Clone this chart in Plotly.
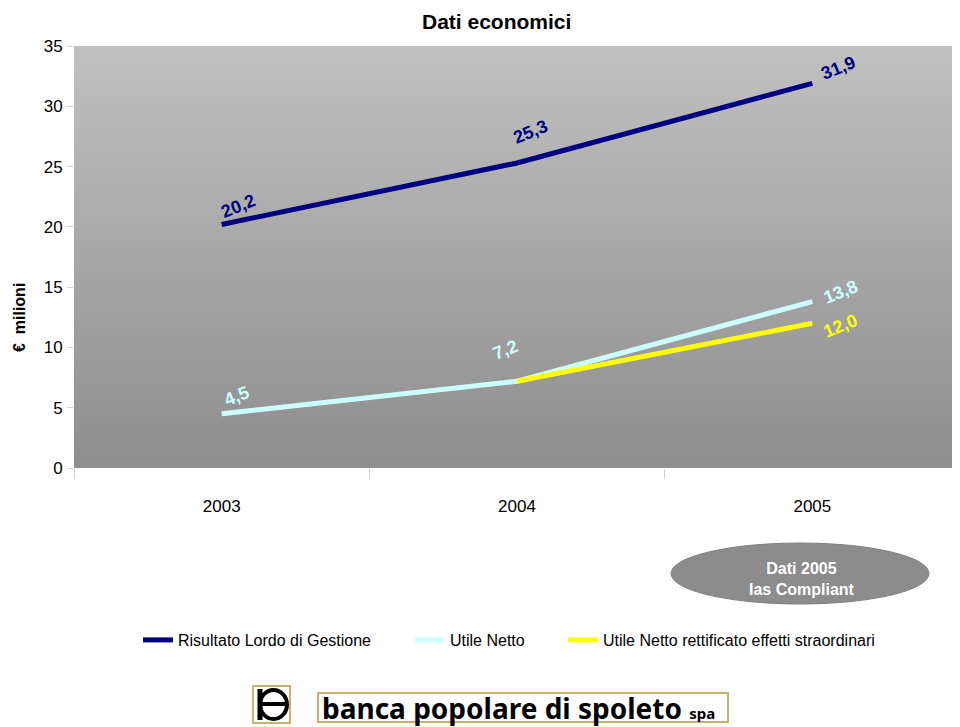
import plotly.graph_objects as go

years = ["2003", "2004", "2005"]
risultato_lordo = [20.2, 25.3, 31.9]
utile_netto = [4.5, 7.2, 13.8]
utile_rettificato = [None, 7.2, 12.0]
label_rl = ["20,2", "25,3", "31,9"]
label_un = ["4,5", "7,2", "13,8"]
label_ur = [None, None, "12,0"]
y_ticks = [0, 5, 10, 15, 20, 25, 30, 35]

W, H = 960, 727
# plot area as seen on screen (the page body adds an 8px offset)
OFF = 8
L, R, T, B = 74, 960, 46, 468
FONT = "Liberation Sans, Arial, sans-serif"


def px(x):
    return (x - L) / (R - L)


def py(y):
    return (B - y) / (B - T)


fig = go.Figure()
NAVY = "#000080"
CYAN = "#ccffff"
YEL = "#ffff00"

fig.add_trace(go.Scatter(x=years, y=risultato_lordo, mode="lines", name="Risultato Lordo di Gestione",
                         line=dict(color=NAVY, width=5), legend="legend"))
fig.add_trace(go.Scatter(x=years, y=utile_netto, mode="lines", name="Utile Netto",
                         line=dict(color=CYAN, width=5), legend="legend2"))
fig.add_trace(go.Scatter(x=years, y=utile_rettificato, mode="lines",
                         name="Utile Netto rettificato effetti straordinari",
                         line=dict(color=YEL, width=5), legend="legend3"))

shapes = []
# gradient background of the plot area
n = 60
top = (192, 192, 192)
bot = (142, 142, 142)
for i in range(n):
    t = i / (n - 1)
    c = tuple(int(round(top[k] + (bot[k] - top[k]) * t)) for k in range(3))
    shapes.append(dict(type="rect", xref="paper", yref="paper", x0=0, x1=1,
                       y0=max(0, 1 - (i + 1) / n - 0.004), y1=1 - i / n, line=dict(width=0),
                       fillcolor="rgb(%d,%d,%d)" % c, layer="below"))

# ellipse note
shapes.append(dict(type="circle", xref="paper", yref="paper",
                   x0=px(671), x1=px(929), y0=py(604), y1=py(543),
                   fillcolor="#8c8c8c", line=dict(color="#808080", width=1)))

# logo emblem
shapes.append(dict(type="rect", xref="paper", yref="paper", x0=px(253), x1=px(290), y0=py(723), y1=py(686),
                   fillcolor="white", line=dict(color="#c8b070", width=2)))
shapes.append(dict(type="circle", xref="paper", yref="paper", x0=px(260), x1=px(287), y0=py(719), y1=py(690),
                   fillcolor="white", line=dict(color="black", width=4)))
shapes.append(dict(type="line", xref="paper", yref="paper", x0=px(260), x1=px(287), y0=py(704), y1=py(704),
                   line=dict(color="black", width=4)))
shapes.append(dict(type="line", xref="paper", yref="paper", x0=px(260), x1=px(260), y0=py(720), y1=py(689),
                   line=dict(color="black", width=5)))
shapes.append(dict(type="rect", xref="paper", yref="paper", x0=px(318), x1=px(728), y0=py(722), y1=py(693),
                   fillcolor="white", line=dict(color="#c8b070", width=2)))

annotations = []


def add_labels(vals, labels, color, offsets):
    for i, (v, lab) in enumerate(zip(vals, labels)):
        if lab is None or v is None:
            continue
        dx, dy = offsets[i]
        annotations.append(dict(x=i, y=v, xref="x", yref="y", text="<b>%s</b>" % lab, showarrow=False,
                                textangle=-22, xshift=dx, yshift=dy, xanchor="center", yanchor="middle",
                                font=dict(family=FONT, size=18, color=color)))


add_labels(risultato_lordo, label_rl, NAVY, [(17, 18), (13, 31), (26, 15)])
add_labels(utile_netto, label_un, CYAN, [(15, 18), (-12, 31), (28, 10)])
add_labels(utile_rettificato, label_ur, YEL, [(0, 0), (0, 0), (28, -3)])


def note(x, y, text, size, color, family=FONT, angle=0):
    annotations.append(dict(xref="paper", yref="paper", x=px(x), y=py(y), showarrow=False,
                            xanchor="center", yanchor="middle", textangle=angle,
                            text=text, font=dict(family=family, size=size, color=color)))


note(802, 579, "<b>Dati 2005<br>Ias Compliant</b>", 16, "white")
note(496, 21, "<b>Dati economici</b>", 21, "black")
note(19, 318, "<b>€  milioni</b>", 16, "black", angle=-90)
note(519, 708, "<b>banca popolare di spoleto</b> <b><span style='font-size:15px'>spa</span></b>", 28, "black",
     family="Noto Sans, DejaVu Sans, sans-serif")

leg_common = dict(orientation="h", xanchor="left", yanchor="middle",
                  font=dict(family=FONT, size=16, color="black"), itemwidth=30,
                  bgcolor="rgba(0,0,0,0)")

fig.update_layout(
    width=W, height=H,
    margin=dict(l=L - OFF, r=W - R + OFF, t=T - OFF, b=H - B + OFF, autoexpand=False),
    paper_bgcolor="white",
    plot_bgcolor="rgba(0,0,0,0)",
    showlegend=True,
    legend=dict(x=px(138), y=py(640), **leg_common),
    legend2=dict(x=px(410), y=py(640), **leg_common),
    legend3=dict(x=px(563), y=py(640), **leg_common),
    shapes=shapes,
    annotations=annotations,
    xaxis=dict(type="category", range=[-0.5, 2.5], showgrid=False, zeroline=False, showline=False,
               ticks="outside", tickson="boundaries", ticklen=10, tickcolor="#d0d0d0",
               tickfont=dict(family=FONT, size=17, color="black"), ticklabelstandoff=26),
    yaxis=dict(range=[0, 35], tickvals=y_ticks, showgrid=False, zeroline=False, showline=False,
               ticks="outside", ticklen=6, tickcolor="#d0d0d0",
               tickfont=dict(family=FONT, size=17, color="black"), ticklabelstandoff=1),
)

fig.write_html("out.html")
